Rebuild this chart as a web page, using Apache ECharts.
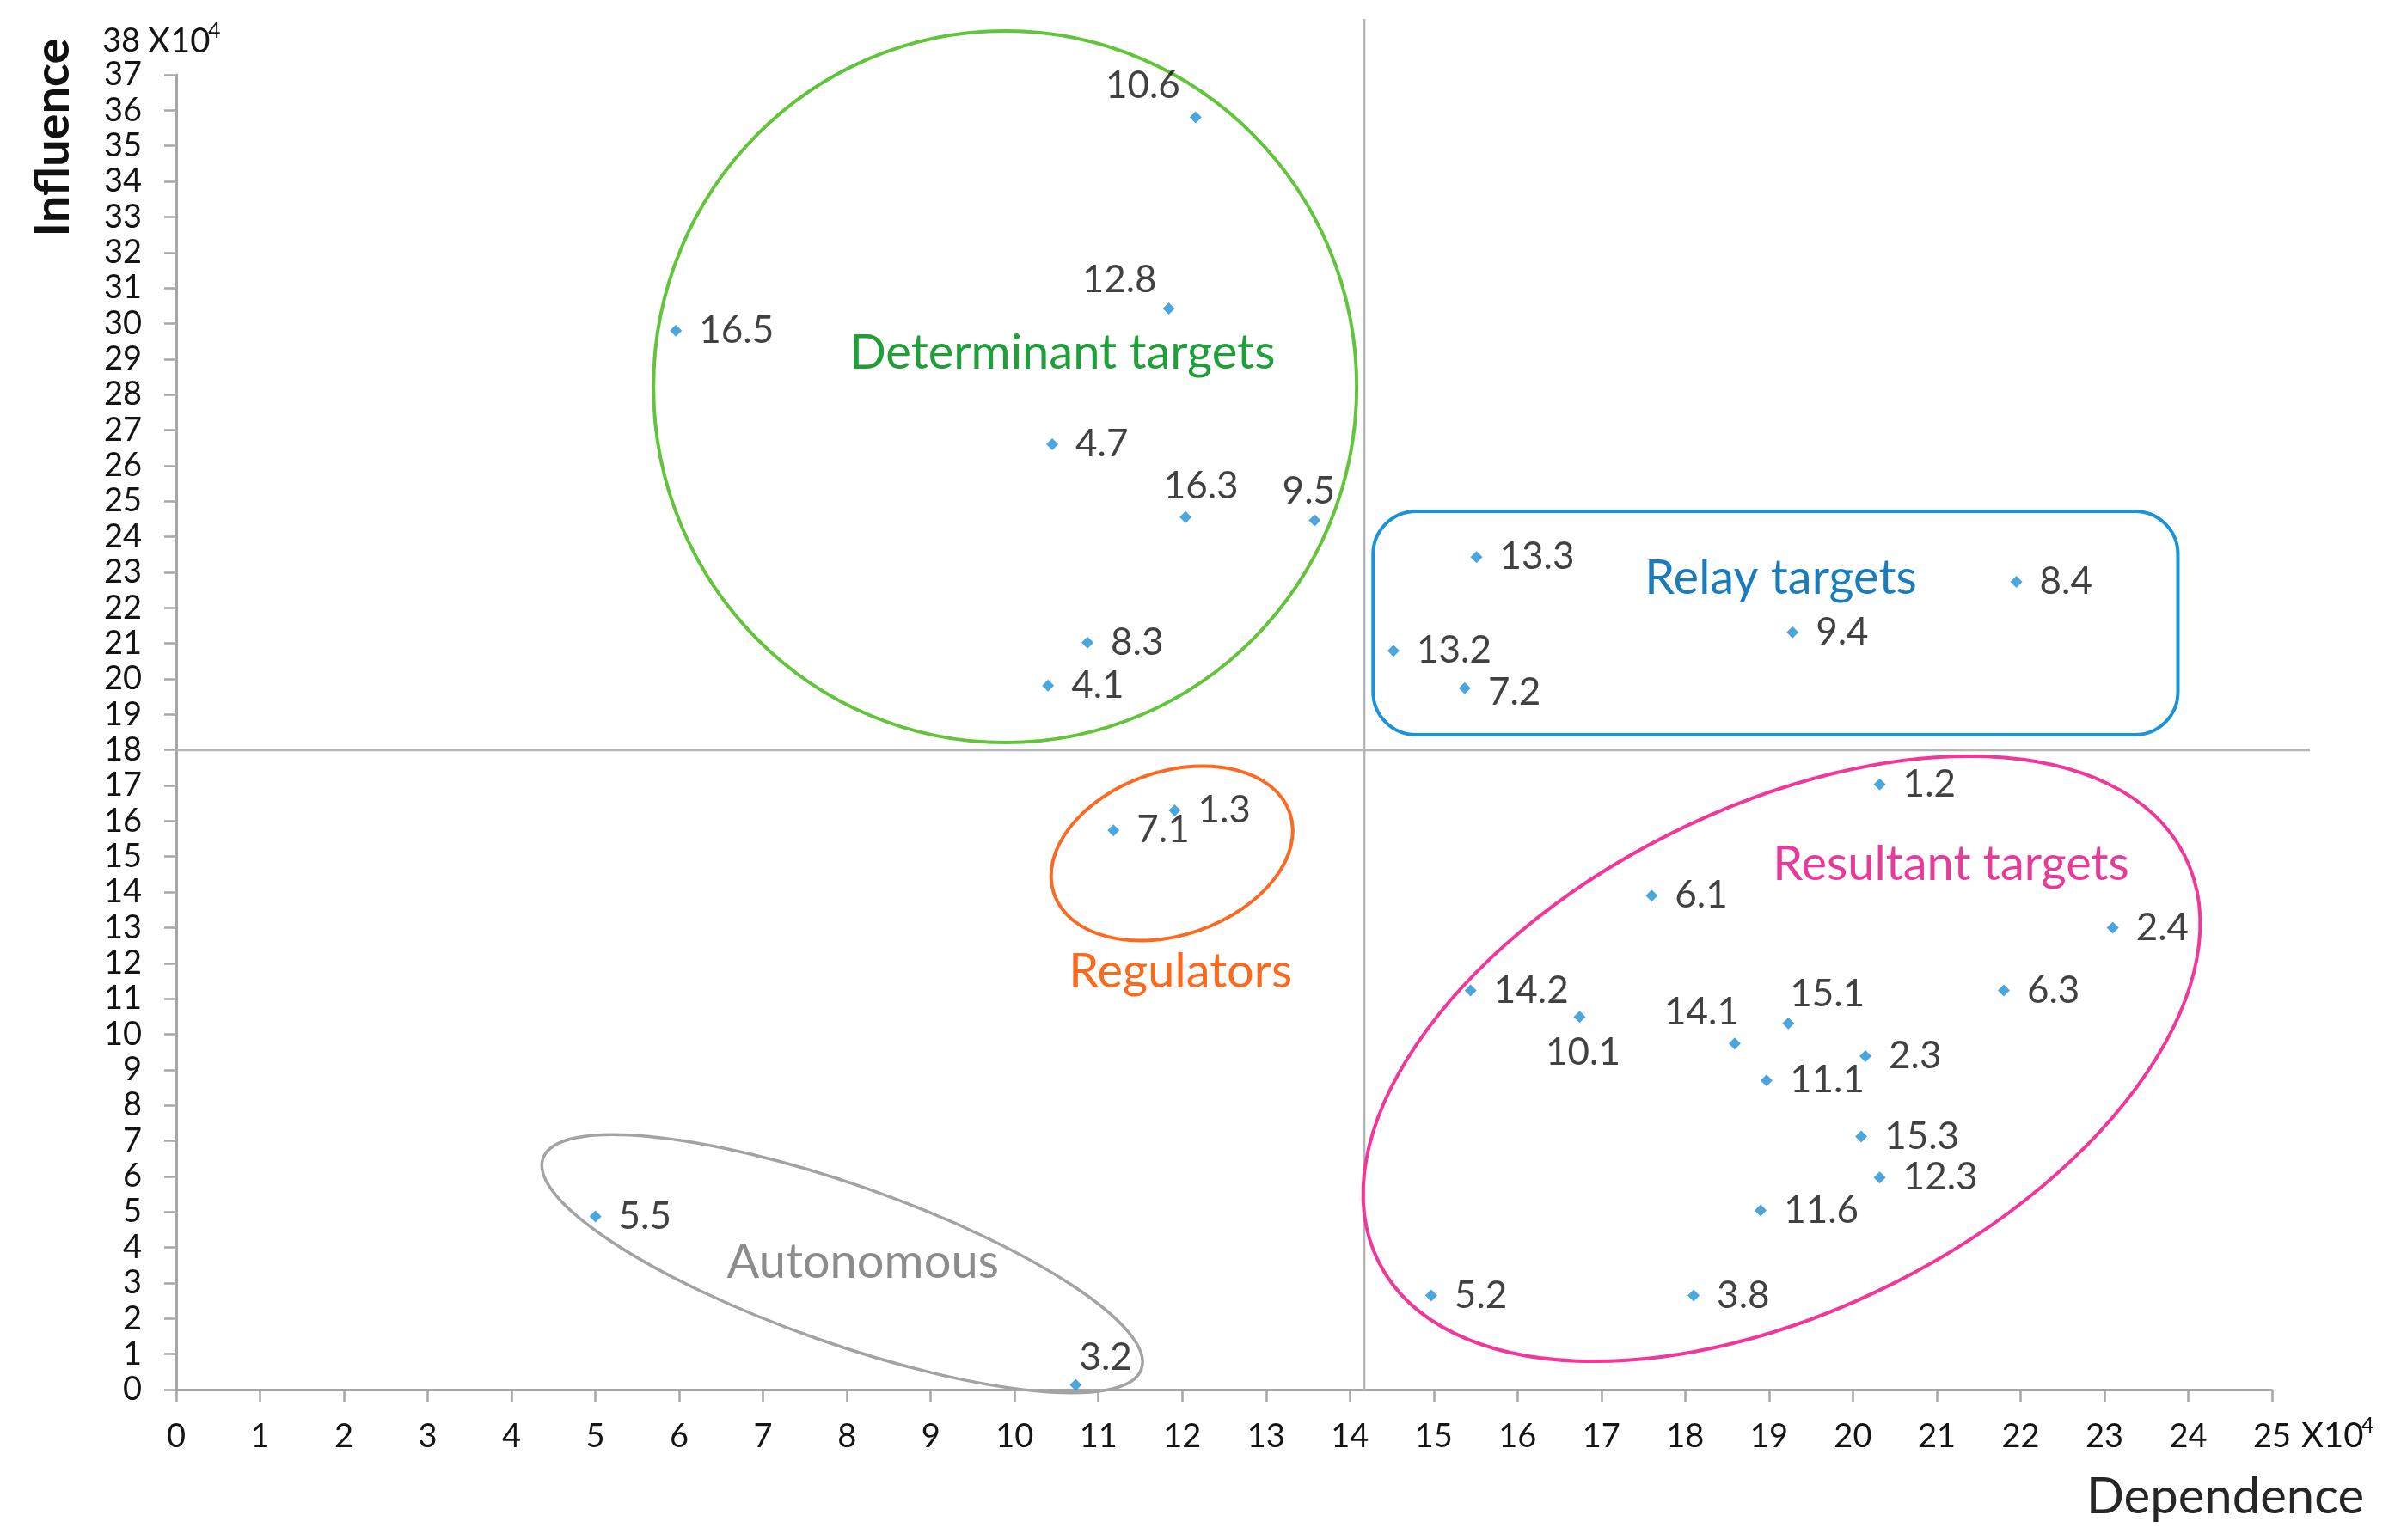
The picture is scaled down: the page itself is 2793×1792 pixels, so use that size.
<!DOCTYPE html>
<html><head><meta charset="utf-8">
<script src="https://cdn.jsdelivr.net/npm/echarts@6/dist/echarts.min.js"></script>
<style>html,body{margin:0;padding:0;background:#fff}#c{width:2793px;height:1792px}</style>
</head><body><div id="c"></div>
<script>
// ---- data (values in units of 10^4) ----
const names = ['10.6','12.8','16.5','4.7','16.3','9.5','8.3','4.1','13.3','13.2','7.2','9.4','8.4','1.3','7.1','1.2','6.1','2.4','14.2','10.1','15.1','6.3','14.1','2.3','11.1','15.3','12.3','11.6','5.2','3.8','5.5','3.2'];
const dependence = [12.16, 11.84, 5.96, 10.45, 12.04, 13.58, 10.87, 10.40, 15.51, 14.52, 15.37, 19.28, 21.95, 11.91, 11.18, 20.32, 17.60, 23.10, 15.44, 16.74, 19.23, 21.80, 18.59, 20.15, 18.97, 20.10, 20.32, 18.90, 14.97, 18.10, 5.00, 10.73];
const influence = [35.80, 30.42, 29.80, 26.60, 24.55, 24.46, 21.02, 19.81, 23.43, 20.79, 19.74, 21.31, 22.73, 16.30, 15.74, 17.03, 13.90, 13.00, 11.23, 10.49, 10.31, 11.23, 9.74, 9.38, 8.70, 7.12, 5.97, 5.04, 2.65, 2.65, 4.87, 0.13];
const xMin = 0, xMax = 25, yMin = 0, yMax = 37, tickStep = 1;
const yTopLabel = '38';
const scaleText = 'X10';
const scaleExp = '4';
const xTitle = 'Dependence';
const yTitle = 'Influence';
const dividerX = 14.17;   // vertical quadrant divider
const dividerY = 18;      // horizontal quadrant divider

// ---- styles ----
const FONT = 'Lato, "Open Sans", sans-serif';
const AXIS_GRAY = '#a6a6a6';
const labelOverrides = {
  '10.6': [-18, -37, 'right'],
  '12.8': [-14, -33, 'right'],
  '16.3': [18, -36, 'center'],
  '9.5': [-7, -34, 'center'],
  '10.1': [4, 42, 'center'],
  '15.1': [2, -34, 'left'],
  '14.1': [5, -36, 'right'],
  '3.2': [4, -32, 'left'],
  '7.2': [27, 5, 'left']
};
const SYM = 14;
function labelFor(name) {
  const o = labelOverrides[name] || [27, 0, 'left'];
  return { show: true, position: [SYM / 2 + o[0], SYM / 2 + o[1]], align: o[2], verticalAlign: 'middle' };
}

const chart = echarts.init(document.getElementById('c'), null, { renderer: 'canvas' });
chart.setOption({
  animation: false,
  backgroundColor: '#ffffff',
  grid: { left: 205, right: 150, top: 87, bottom: 175, containLabel: false },
  xAxis: {
    type: 'value', min: xMin, max: xMax, interval: tickStep,
    axisLine: { show: true, lineStyle: { color: AXIS_GRAY, width: 3 } },
    axisTick: { show: true, length: 15, lineStyle: { color: AXIS_GRAY, width: 2.5 } },
    axisLabel: { fontSize: 38, fontFamily: FONT, color: '#141414', margin: 36 },
    splitLine: { show: false }
  },
  yAxis: {
    type: 'value', min: yMin, max: yMax, interval: tickStep,
    axisLine: { show: true, lineStyle: { color: AXIS_GRAY, width: 3 } },
    axisTick: { show: true, length: 14, lineStyle: { color: AXIS_GRAY, width: 2.5 } },
    axisLabel: { fontSize: 38, fontFamily: FONT, color: '#141414', margin: 40 },
    splitLine: { show: false }
  },
  series: [{
    type: 'scatter',
    symbol: 'diamond',
    symbolSize: SYM,
    itemStyle: { color: '#1e90d6' },
    label: { show: true, fontSize: 44, fontFamily: FONT, color: '#111111', formatter: '{b}' },
    emphasis: { disabled: true },
    z: 5,
    data: names.map((n, i) => ({ name: n, value: [dependence[i], influence[i]], label: labelFor(n) }))
  }]
});

const P = (x, y) => chart.convertToPixel({ gridIndex: 0 }, [x, y]);
const deg = d => d * Math.PI / 180;

// annotation shapes, centres in data units
const groups = [
  { c: [9.887, 28.22], rx: 409, ry: 414, rot: 0, color: '#62c43a', w: 4 },
  { c: [11.877, 15.09], rx: 145, ry: 95, rot: 19, color: '#fa6a22', w: 4 },
  { c: [19.15, 9.31], rx: 525, ry: 292, rot: 26.8, color: '#f0389a', w: 4 },
  { c: [7.944, 3.543], rx: 369, ry: 92, rot: -19.4, color: '#a3a3a3', w: 3.5 }
];
const relayBox = { x0: 14.277, x1: 23.877, y0: 18.428, y1: 24.716, r: 50, color: '#1a94d6', w: 4 };
const groupTexts = [
  { t: 'Determinant targets', c: [10.57, 29.17], color: '#1f9e3a' },
  { t: 'Relay targets', c: [19.14, 22.83], color: '#1b7cbc' },
  { t: 'Regulators', c: [11.98, 11.75], color: '#fa6a1e' },
  { t: 'Resultant targets', c: [21.17, 14.78], color: '#e63b98' },
  { t: 'Autonomous', c: [8.19, 3.58], color: '#8c8c8c' }
];

const g = [];
// quadrant dividers
const v0 = P(dividerX, 0), v1 = P(dividerX, 38.57);
g.push({ type: 'line', shape: { x1: v0[0], y1: v0[1], x2: v1[0], y2: v1[1] }, style: { stroke: '#b5b5b5', lineWidth: 3 }, z: 1 });
const h0 = P(0, dividerY), h1 = P(25.45, dividerY);
g.push({ type: 'line', shape: { x1: h0[0], y1: h0[1], x2: h1[0], y2: h1[1] }, style: { stroke: '#b5b5b5', lineWidth: 3 }, z: 1 });

groups.forEach(e => {
  const c = P(e.c[0], e.c[1]);
  g.push({ type: 'ellipse', x: c[0], y: c[1], rotation: deg(e.rot), shape: { cx: 0, cy: 0, rx: e.rx, ry: e.ry }, style: { fill: 'none', stroke: e.color, lineWidth: e.w }, z: 2 });
});
const b0 = P(relayBox.x0, relayBox.y1), b1 = P(relayBox.x1, relayBox.y0);
g.push({ type: 'rect', shape: { x: b0[0], y: b0[1], width: b1[0] - b0[0], height: b1[1] - b0[1], r: relayBox.r }, style: { fill: 'none', stroke: relayBox.color, lineWidth: relayBox.w }, z: 2 });

groupTexts.forEach(t => {
  const c = P(t.c[0], t.c[1]);
  g.push({ type: 'text', x: c[0], y: c[1], style: { text: t.t, fill: t.color, fontSize: 56, fontFamily: FONT, align: 'center', verticalAlign: 'middle' }, z: 3 });
});

// axis titles and scale markers
const yl = P(0, 38);
g.push({ type: 'text', x: yl[0] - 42, y: yl[1] + 2, style: { text: yTopLabel, fill: '#141414', fontSize: 38, fontFamily: FONT, align: 'right', verticalAlign: 'middle' } });
g.push({ type: 'text', x: yl[0] - 33, y: yl[1] + 2, style: { text: scaleText, fill: '#141414', fontSize: 40, fontFamily: FONT, align: 'left', verticalAlign: 'middle' } });
g.push({ type: 'text', x: yl[0] + 37, y: yl[1] - 10, style: { text: scaleExp, fill: '#141414', fontSize: 25, fontFamily: FONT, align: 'left', verticalAlign: 'middle' } });
const xr = P(25, 0);
g.push({ type: 'text', x: xr[0] + 34, y: xr[1] + 54, style: { text: scaleText, fill: '#141414', fontSize: 40, fontFamily: FONT, align: 'left', verticalAlign: 'middle' } });
g.push({ type: 'text', x: xr[0] + 104, y: xr[1] + 42, style: { text: scaleExp, fill: '#141414', fontSize: 25, fontFamily: FONT, align: 'left', verticalAlign: 'middle' } });
g.push({ type: 'text', x: xr[0] + 107, y: xr[1] + 125, style: { text: xTitle, fill: '#262626', fontSize: 58, fontFamily: FONT, align: 'right', verticalAlign: 'middle' } });
g.push({ type: 'text', x: 62, y: 160, rotation: Math.PI / 2, style: { text: yTitle, fill: '#111111', fontSize: 56, fontWeight: 'bold', fontFamily: FONT, align: 'center', verticalAlign: 'middle' } });

chart.setOption({ graphic: { elements: g } });
</script>
</body></html>
